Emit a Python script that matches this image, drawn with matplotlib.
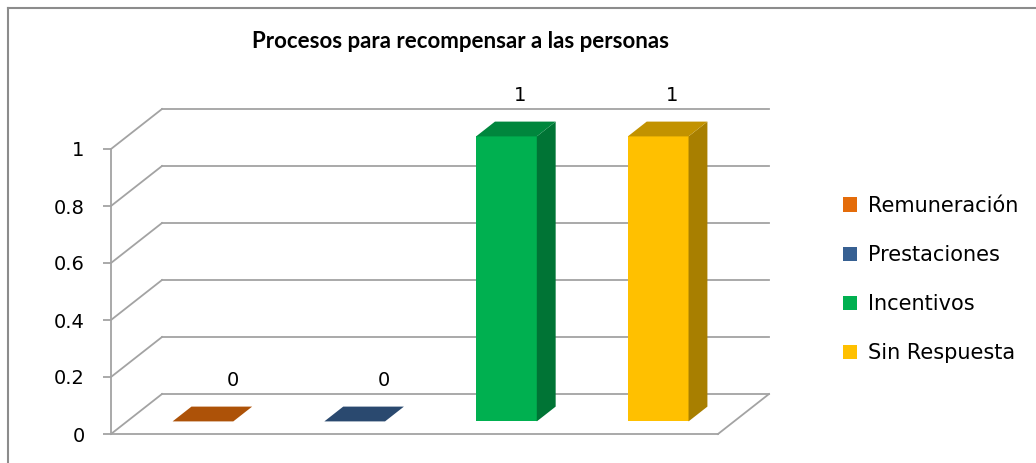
import matplotlib
matplotlib.use('Agg')
from matplotlib import pyplot as plt
from matplotlib.patches import Polygon, Patch
from matplotlib.lines import Line2D
import numpy as np

plt.rcParams['font.family'] = ['DejaVu Sans']

# data
series = ['Remuneración', 'Prestaciones', 'Incentivos', 'Sin Respuesta']
values = [0, 0, 1, 1]
colors = ['#E46C0A', '#376092', '#00B050', '#FFC000']
yticks = [0, 0.2, 0.4, 0.6, 0.8, 1]
title = 'Procesos para recompensar a las personas'

W, H = 1036, 463
fig = plt.figure(figsize=(W / 100, H / 100), dpi=100)

# plot area: x in category units (0..4), y in value units (0..1)
x0, x1, y0, y1 = 111, 718, 434, 149
ax = fig.add_axes([x0 / W, 1 - y0 / H, (x1 - x0) / W, (y0 - y1) / H])
ax.set_xlim(0, len(series))
ax.set_ylim(0, 1)

# fake 3d depth (full wall depth and bar depth)
px_x = (x1 - x0) / len(series)
px_y = (y0 - y1)
DX, DY = 51 / px_x, 40 / px_y
bar_frac = 0.37
ddx, ddy = DX * bar_frac, DY * bar_frac
sx, sy = DX * (1 - bar_frac) / 2, DY * (1 - bar_frac) / 2
bw = 0.40

grid = '#A3A3A3'
for t in yticks:
    ax.plot([0, DX], [t, t + DY], color=grid, lw=1.3, clip_on=False, zorder=1)
    ax.plot([DX, len(series) + DX], [t + DY, t + DY], color=grid, lw=1.3,
            clip_on=False, zorder=1)
ax.plot([0, len(series)], [0, 0], color=grid, lw=1.3, clip_on=False, zorder=1)
ax.plot([len(series), len(series) + DX], [0, DY], color=grid, lw=1.3,
        clip_on=False, zorder=1)


def shade(c, f):
    r, g, b = matplotlib.colors.to_rgb(c)
    return (r * f, g * f, b * f)


xc = np.arange(len(series)) + 0.5 + sx
ax.bar(xc, values, width=bw, bottom=sy, color=colors, zorder=3, clip_on=False)
for x, v, c in zip(xc, values, colors):
    r = x + bw / 2
    l = x - bw / 2
    side = Polygon([(r, sy), (r + ddx, sy + ddy), (r + ddx, sy + ddy + v), (r, sy + v)],
                   closed=True, facecolor=shade(c, 0.66), edgecolor='none',
                   zorder=3, clip_on=False)
    top = Polygon([(l, sy + v), (r, sy + v), (r + ddx, sy + v + ddy), (l + ddx, sy + v + ddy)],
                  closed=True, facecolor=shade(c, 0.76), edgecolor='none',
                  zorder=4, clip_on=False)
    ax.add_patch(side)
    ax.add_patch(top)
    off = (20 - 16 * v) * 0.72
    ax.annotate(f'{v}', (x + ddx / 2, sy + v + ddy / 2), xytext=(off, 24),
                textcoords='offset points', ha='center', va='center',
                fontsize=14, color='black', zorder=5, annotation_clip=False)

for s in ['top', 'right', 'bottom']:
    ax.spines[s].set_visible(False)
ax.spines['left'].set_color(grid)
ax.spines['left'].set_linewidth(1.3)
ax.set_yticks(yticks)
ax.set_yticklabels(['0', '0.2', '0.4', '0.6', '0.8', '1'])
ax.tick_params(axis='y', length=6, width=1.3, color=grid, pad=13, labelsize=14)
ax.set_xticks([])
ax.patch.set_visible(False)

handles = [Patch(facecolor=c, edgecolor='none') for c in colors]
fig.legend(handles, series, loc='center left', bbox_to_anchor=(843 / W, 1 - 279.5 / H),
           frameon=False, fontsize=15, handlelength=0.67, handleheight=0.67,
           handletextpad=0.53, labelspacing=1.4, borderpad=0, borderaxespad=0)

fig.text(461 / W, 1 - 42 / H, title, ha='center', va='center', fontsize=16,
         fontweight='bold', family=['Lato', 'DejaVu Sans'])

# chart frame (cropped)
fig.add_artist(Line2D([7.5 / W, 7.5 / W], [0, 1 - 7.5 / H], color='#8C8C8C', lw=1.5))
fig.add_artist(Line2D([7.5 / W, 1], [1 - 7.5 / H, 1 - 7.5 / H], color='#8C8C8C', lw=1.5))

fig.savefig('out.png', dpi=100, facecolor='white')
